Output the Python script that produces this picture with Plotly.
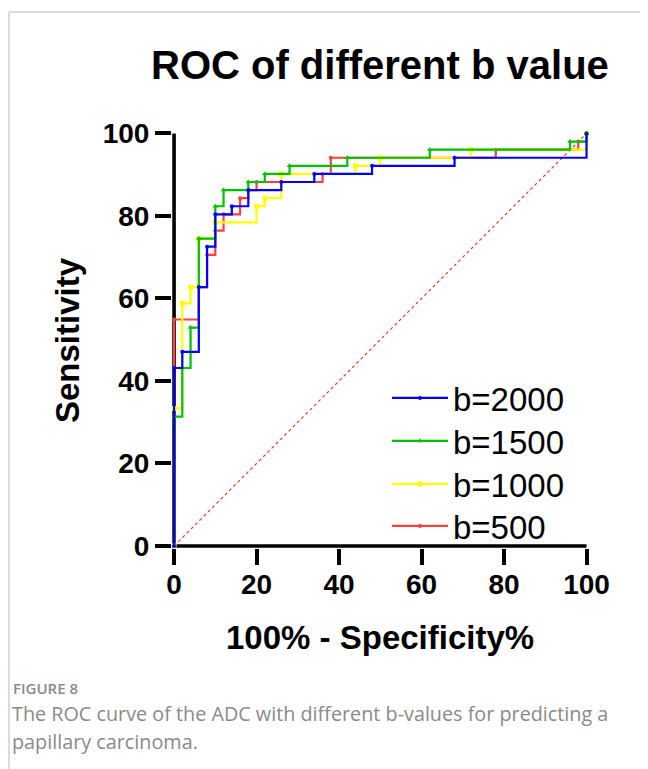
import plotly.graph_objects as go

# ---------------- data ----------------
series_names = ["b=2000", "b=1500", "b=1000", "b=500"]

# step-corner points of each ROC curve (x = 100% - Specificity%, y = Sensitivity%)
b2000_x = [0, 0, 2, 6, 8, 10, 14, 18, 26, 34, 48, 68, 100]
b2000_y = [0, 43.14, 47.06, 62.75, 72.55, 80.39, 82.35, 86.27, 88.24, 90.20, 92.16, 94.12, 100]

b1500_x = [0, 0, 2, 4, 6, 10, 12, 18, 22, 28, 42, 62, 96, 100]
b1500_y = [0, 31.37, 43.14, 52.94, 74.51, 82.35, 86.27, 88.24, 90.20, 92.16, 94.12, 96.08, 98.04, 100]

b1000_x = [0, 0, 2, 4, 6, 10, 20, 22, 26, 44, 50, 72, 100]
b1000_y = [0, 33.33, 58.82, 62.75, 74.51, 78.43, 82.35, 84.31, 90.20, 92.16, 94.12, 96.08, 100]

b500_x = [0, 0, 6, 8, 10, 12, 16, 18, 20, 36, 38, 78, 98, 100]
b500_y = [0, 54.90, 62.75, 70.59, 76.47, 80.39, 84.31, 86.27, 88.24, 90.20, 94.12, 96.08, 98.04, 100]

diag_x = [0, 100]
diag_y = [0, 100]

tick_vals = [0, 20, 40, 60, 80, 100]
tick_text = ["0", "20", "40", "60", "80", "100"]

title_text = "ROC of different b value"
x_title = "100% - Specificity%"
y_title = "Sensitivity"
fig_label = "FIGURE 8"
caption_1 = "The ROC curve of the ADC with different b-values for predicting a"
caption_2 = "papillary carcinoma."

# ---------------- layout geometry ----------------
OFF = 8                      # page body margin in the browser
W, H = 640, 761              # figure size (window 648x769 minus body margin)
ML, MR, MT, MB = 164, 59, 123, 221
PW, PH = W - ML - MR, H - MT - MB
XR = [-0.5, 100.6]
YR = [-0.5, 100.6]


def px2x(px):
    """reference-screenshot pixel x -> paper x"""
    return (px - OFF - ML) / PW


def py2y(py):
    """reference-screenshot pixel y -> paper y"""
    return (H - MB - (py - OFF)) / PH


FONT = "Liberation Sans, Arial, sans-serif"
CAP_FONT = "Open Sans, Noto Sans, sans-serif"

fig = go.Figure()

# chance line
fig.add_trace(go.Scatter(
    x=diag_x, y=diag_y, mode="lines",
    line=dict(color="#ff3030", width=1.2, dash="dot"),
    showlegend=False, hoverinfo="skip"))

styles = {
    "b=500": dict(color="#ff4040", symbol="circle", size=4),
    "b=1000": dict(color="#ffff00", symbol="square", size=5),
    "b=1500": dict(color="#00c000", symbol="triangle-up", size=5),
    "b=2000": dict(color="#0000ff", symbol="circle", size=4),
}
data = {
    "b=2000": (b2000_x, b2000_y),
    "b=1500": (b1500_x, b1500_y),
    "b=1000": (b1000_x, b1000_y),
    "b=500": (b500_x, b500_y),
}
legend_ids = {"b=2000": "legend", "b=1500": "legend2", "b=1000": "legend3", "b=500": "legend4"}
legend_py = {"b=2000": 398, "b=1500": 441, "b=1000": 484, "b=500": 526}

# draw bottom-to-top: red, yellow, green, blue
for name in reversed(series_names):
    xs, ys = data[name]
    st = styles[name]
    fig.add_trace(go.Scatter(
        x=xs, y=ys, name=name, mode="lines+markers",
        line=dict(color=st["color"], width=2.2, shape="hv"),
        marker=dict(color=st["color"], symbol=st["symbol"], size=st["size"]),
        legend=legend_ids[name],
    ))

# axis lines drawn at data 0 (so curves sit on top of them)
fig.add_shape(type="path", path="M0,100 L0,0 L100,0", xref="x", yref="y",
              line=dict(color="black", width=3.6), layer="below")

# figure panel border (left + top)
fig.add_shape(type="line", xref="paper", yref="paper",
              x0=px2x(9), x1=px2x(9), y0=py2y(12), y1=py2y(800),
              line=dict(color="#cfcfcf", width=1.5))
fig.add_shape(type="line", xref="paper", yref="paper",
              x0=px2x(9), x1=px2x(700), y0=py2y(12), y1=py2y(12),
              line=dict(color="#cfcfcf", width=1.5))

axis_common = dict(
    showline=False, showgrid=False, zeroline=False,
    ticks="outside", ticklen=16, tickwidth=3.6, tickcolor="black",
    tickvals=tick_vals, ticktext=tick_text,
    tickfont=dict(family=FONT, size=28, color="black", weight="bold"),
)
fig.update_xaxes(range=XR, ticklabelstandoff=-5, **axis_common)
fig.update_yaxes(range=YR, **axis_common)

annos = [
    dict(text=title_text, x=px2x(380), y=py2y(65),
         font=dict(family=FONT, size=40, color="black", weight="bold"),
         xanchor="center", yanchor="middle"),
    dict(text=x_title, x=px2x(380), y=py2y(637),
         font=dict(family=FONT, size=33, color="black", weight="bold"),
         xanchor="center", yanchor="middle"),
    dict(text=y_title, x=px2x(67), y=py2y(340), textangle=-90,
         font=dict(family=FONT, size=33, color="black", weight="bold"),
         xanchor="center", yanchor="middle"),
    dict(text=fig_label, x=px2x(11), y=py2y(688),
         font=dict(family=CAP_FONT, size=15, color="#8a8a8a", weight=600),
         xanchor="left", yanchor="middle"),
    dict(text=caption_1, x=px2x(10), y=py2y(713),
         font=dict(family=CAP_FONT, size=19.8, color="#8a8a8a"),
         xanchor="left", yanchor="middle"),
    dict(text=caption_2, x=px2x(10), y=py2y(741),
         font=dict(family=CAP_FONT, size=19.8, color="#8a8a8a"),
         xanchor="left", yanchor="middle"),
]
for a in annos:
    fig.add_annotation(xref="paper", yref="paper", showarrow=False, **a)

legend_common = dict(
    xanchor="left", yanchor="middle", bgcolor="rgba(0,0,0,0)",
    font=dict(family=FONT, size=33, color="black"), itemwidth=56,
)
leg_layout = {}
for name in series_names:
    leg_layout[legend_ids[name]] = dict(x=px2x(387), y=py2y(legend_py[name]), **legend_common)

fig.update_layout(
    width=W, height=H,
    margin=dict(l=ML, r=MR, t=MT, b=MB, pad=0),
    paper_bgcolor="white", plot_bgcolor="white",
    showlegend=True,
    **leg_layout,
)

fig.write_html("out.html")
